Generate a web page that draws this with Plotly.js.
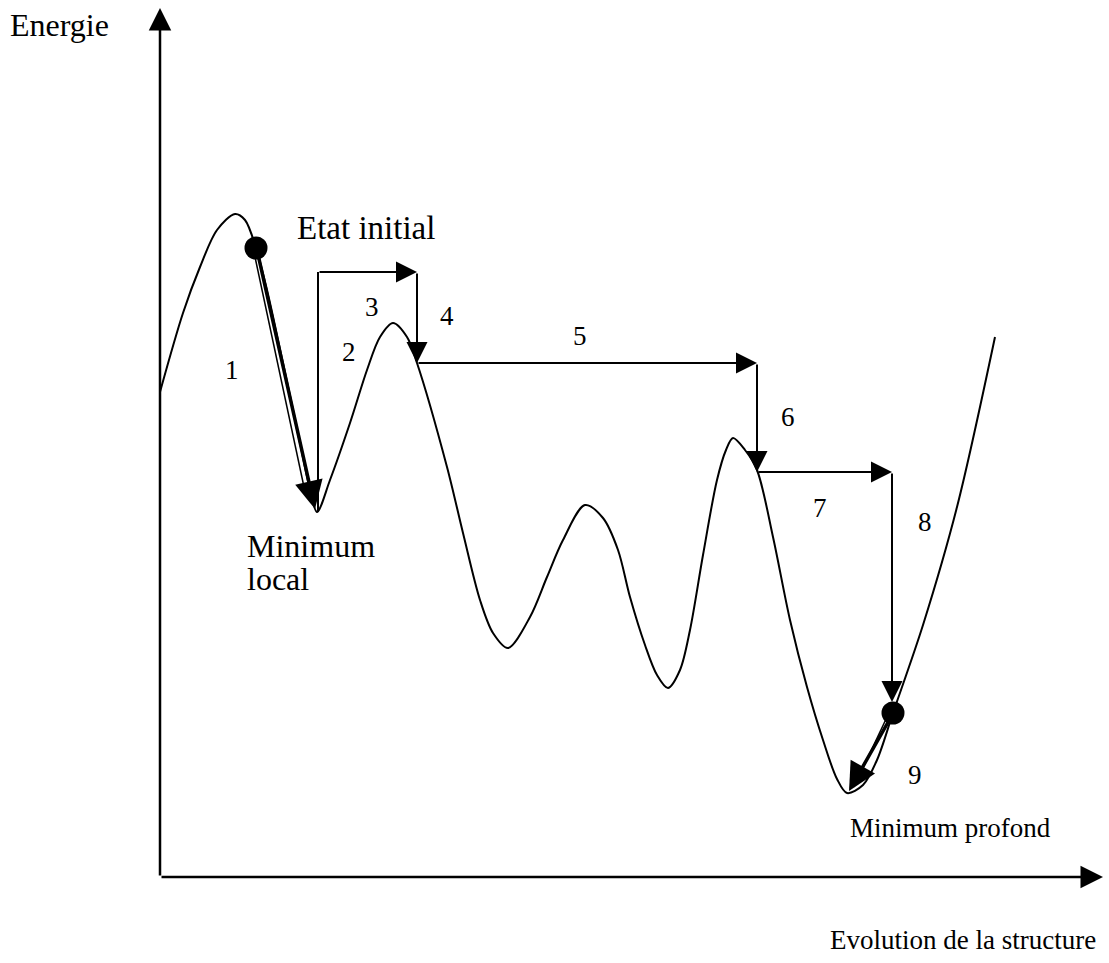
<!DOCTYPE html>
<html>
<head>
<meta charset="utf-8">
<script src="https://cdn.plot.ly/plotly-3.0.1.min.js"></script>
<style>html,body{margin:0;padding:0;background:#fff;}#chart{width:1109px;height:963px;}</style>
</head>
<body>
<div id="chart"></div>
<script>
// Energy landscape curve (x = evolution of structure, y = energy)
const curveX = [0, 23, 40, 57, 75, 85, 96, 107, 123, 140, 150, 157, 170, 190, 207, 220, 233, 247, 257, 287, 303, 320, 333, 348, 370, 387, 403, 425, 443, 458, 470, 485, 497, 508, 520, 530, 543, 557, 566, 573, 585, 597, 613, 630, 647, 663, 677, 687, 703, 717, 733, 763, 797, 835];
const curveE = [485, 564, 610, 647, 663, 657, 629, 587, 514, 434, 387, 365, 397, 454, 507, 540, 554, 540, 514, 410, 344, 277, 244, 229, 260, 300, 337, 372, 359, 327, 280, 232, 202, 189, 207, 247, 322, 397, 427, 439, 427, 407, 340, 257, 190, 137, 98, 84, 92, 117, 164, 252, 370, 540];

// State dots: initial state and deep minimum
const dotX = [96, 733];
const dotE = [629, 164];

// Search path arrows (tail -> tip)
const stepTailX = [97, 158, 257, 257, 597, 597, 732, 731];
const stepTailE = [627, 605, 605, 514, 514, 405, 405, 160];
const stepTipX  = [155, 257, 257, 597, 597, 732, 732, 689];
const stepTipE  = [368, 605, 514, 514, 405, 405, 175, 86];
const stepThick = [true, false, false, false, false, false, false, true];

// Plain segments (no head): step 2 and the thin doubled strokes of 1 and 9
const segX0 = [158, 95, 727];
const segE0 = [365, 620, 160];
const segX1 = [158, 144, 694];
const segE1 = [605, 390, 90];

// Step numbers
const stepLabels = ['1','2','3','4','5','6','7','8','9'];
const stepLabelX = [72, 189, 212, 287, 420, 628, 660, 765, 755];
const stepLabelE = [507, 525, 570, 561, 541, 460, 369, 355, 102];

// Axes extents
const axisXMax = 943;
const axisEMax = 869;

const fam = 'Liberation Serif, Times New Roman, serif';
const font = {family: fam, size: 26, color: '#000'};

const traces = [
  {x: curveX, y: curveE, mode: 'lines', line: {color: '#000', width: 2, shape: 'spline', smoothing: 0.9}, hoverinfo: 'skip'},
  {x: dotX, y: dotE, mode: 'markers', marker: {color: '#000', size: 23}, hoverinfo: 'skip'}
];

const annotations = [];
// axes
annotations.push({x: 0, y: axisEMax, ax: 0, ay: 0, axref: 'x', ayref: 'y', xref: 'x', yref: 'y', text: '', showarrow: true, arrowhead: 2, arrowwidth: 2.5, arrowsize: 1.8, arrowcolor: '#000'});
annotations.push({x: axisXMax, y: 0, ax: 0, ay: 0, axref: 'x', ayref: 'y', xref: 'x', yref: 'y', text: '', showarrow: true, arrowhead: 2, arrowwidth: 2.5, arrowsize: 1.8, arrowcolor: '#000'});
for (let i = 0; i < stepTailX.length; i++) {
  annotations.push({
    x: stepTipX[i], y: stepTipE[i], ax: stepTailX[i], ay: stepTailE[i],
    axref: 'x', ayref: 'y', xref: 'x', yref: 'y', text: '', showarrow: true,
    arrowhead: 2, arrowwidth: stepThick[i] ? 3.5 : 2, arrowsize: stepThick[i] ? 1.6 : 2.1, arrowcolor: '#000'
  });
}
for (let i = 0; i < stepLabels.length; i++) {
  annotations.push({x: stepLabelX[i], y: stepLabelE[i], xref: 'x', yref: 'y', text: stepLabels[i], showarrow: false, font: Object.assign({}, font, {size: 27})});
}
const texts = [
  {text: 'Energie', x: -152, y: 852, xanchor: 'left', size: 32},
  {text: 'Etat initial', x: 135, y: 649, xanchor: 'left', size: 33},
  {text: 'Minimum', x: 85, y: 331, xanchor: 'left', size: 32},
  {text: 'local', x: 85, y: 298, xanchor: 'left', size: 32},
  {text: 'Minimum profond', x: 688, y: 49, xanchor: 'left', size: 27},
  {text: 'Evolution de la structure', x: 938, y: -63, xanchor: 'right', size: 27}
];
texts.forEach(t => annotations.push({
  xref: 'x', yref: 'y', showarrow: false, yanchor: 'middle', xanchor: t.xanchor,
  x: t.x, y: t.y, text: t.text, font: Object.assign({}, font, {size: t.size})
}));

const shapes = [];
for (let i = 0; i < segX0.length; i++) {
  shapes.push({type: 'line', xref: 'x', yref: 'y', x0: segX0[i], y0: segE0[i], x1: segX1[i], y1: segE1[i], line: {color: '#000', width: i === 0 ? 2 : 1.5}});
}

const layout = {
  width: 1109, height: 963,
  margin: {l: 0, r: 0, t: 0, b: 0},
  paper_bgcolor: '#fff', plot_bgcolor: '#fff',
  showlegend: false,
  xaxis: {range: [-160, 949], visible: false, fixedrange: true},
  yaxis: {range: [-86, 877], visible: false, fixedrange: true},
  annotations: annotations,
  shapes: shapes
};

Plotly.newPlot('chart', traces, layout, {displayModeBar: false, staticPlot: true});
</script>
</body>
</html>
